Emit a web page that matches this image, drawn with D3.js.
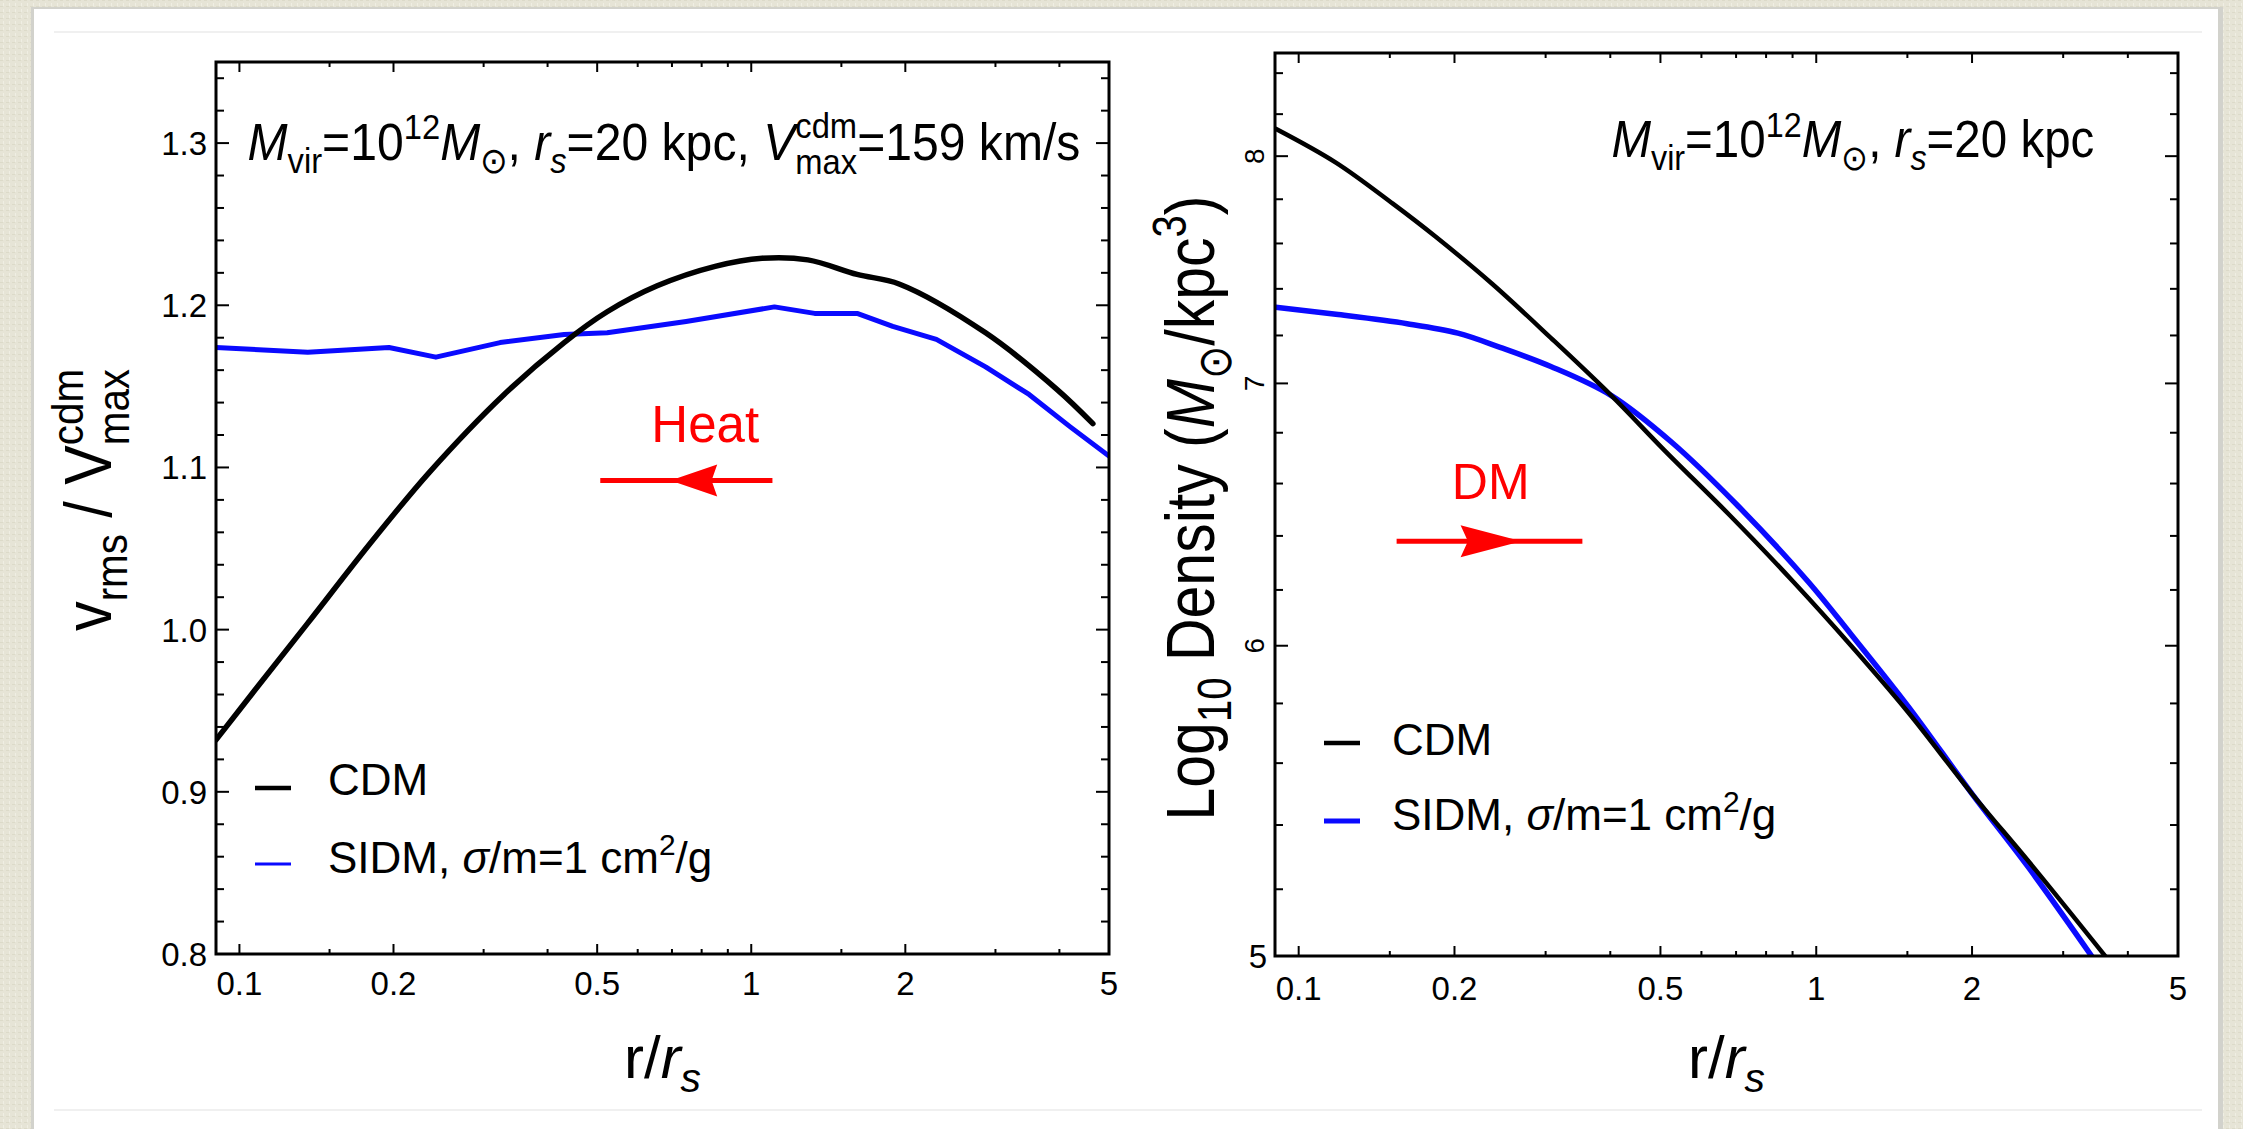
<!DOCTYPE html>
<html>
<head>
<meta charset="utf-8">
<script src="https://cdn.jsdelivr.net/npm/d3@7"></script>
<style>
  html, body { margin: 0; padding: 0; background: #e6e4d7; }
  svg { display: block; }
  text { font-family: "Liberation Sans", Arial, sans-serif; white-space: pre; }
</style>
</head>
<body>
<svg id="fig" width="2243" height="1129"></svg>
<script>
// ---- data ----
const xMajorTicks = [0.1, 0.2, 0.5, 1, 2, 5];
const xTickLabels = ["0.1", "0.2", "0.5", "1", "2", "5"];
const xMinorTicks = [0.15, 0.3, 0.4, 0.6, 0.7, 0.8, 0.9, 1.5, 3, 4];

const vMajorTicks = [0.8, 0.9, 1.0, 1.1, 1.2, 1.3];
const vTickLabels = ["0.8", "0.9", "1.0", "1.1", "1.2", "1.3"];
const rhoMajorTicks = [5, 6, 7, 8];
const rhoTickLabels = ["5", "6", "7", "8"];

// left panel: v_rms / V_max^cdm
const cdmVelR = [0.09, 0.108, 0.136, 0.181, 0.235, 0.329, 0.431, 0.523, 0.655, 0.85, 1.05, 1.29, 1.61, 1.95, 2.87, 3.96, 4.65];
const cdmVel  = [0.932, 0.964, 1.004, 1.054, 1.097, 1.145, 1.177, 1.196, 1.212, 1.224, 1.229, 1.228, 1.219, 1.213, 1.183, 1.148, 1.127];
const sidmVelR = [0.09, 0.136, 0.196, 0.242, 0.323, 0.431, 0.523, 0.746, 1.11, 1.33, 1.61, 1.89, 2.30, 2.87, 3.49, 4.2, 5.0];
const sidmVel  = [1.174, 1.171, 1.174, 1.168, 1.177, 1.182, 1.183, 1.190, 1.199, 1.195, 1.195, 1.187, 1.179, 1.162, 1.145, 1.125, 1.107];

// right panel: log10 density
const cdmRhoR = [0.0903, 0.118, 0.152, 0.184, 0.237, 0.307, 0.402, 0.509, 0.679, 0.903, 1.168, 1.505, 2.00, 2.59, 3.66];
const cdmRho  = [8.13, 7.97, 7.78, 7.63, 7.42, 7.19, 6.95, 6.73, 6.48, 6.23, 6.00, 5.77, 5.50, 5.28, 4.99];
const sidmRhoR = [0.0903, 0.118, 0.162, 0.203, 0.245, 0.307, 0.402, 0.527, 0.701, 0.965, 1.168, 1.505, 2.00, 2.59, 3.44];
const sidmRho  = [7.32, 7.29, 7.25, 7.21, 7.15, 7.07, 6.95, 6.76, 6.52, 6.23, 6.04, 5.79, 5.50, 5.26, 4.99];

// arrows: [r from, r to, level, head base r, head tip r]
const heatArrow = [1.10, 0.507, 1.092, 0.858, 0.695];
const dmArrow   = [0.1546, 0.3533, 6.38, 0.2055, 0.2695];

const svg = d3.select("#fig");

/* rich text: segments with sub / sup / stacked scripts */
function richText(parent, segs, o) {
  const size = o.size;
  const g = parent.append("g");
  const inner = g.append("g");
  let cx = 0;
  const add = (t, x, y, fs, it) => {
    const el = inner.append("text")
      .attr("x", x).attr("y", y)
      .attr("xml:space", "preserve")
      .attr("fill", o.fill || "#000")
      .style("font-size", fs + "px")
      .style("font-style", it ? "italic" : "normal")
      .text(t);
    return el.node().getComputedTextLength();
  };
  segs.forEach(s => {
    if (s.stack !== undefined) {
      const w1 = add(s.t, cx, -size * 0.42, size * 0.68, s.it);
      const w2 = add(s.stack, cx, size * 0.27, size * 0.68, s.it);
      cx += Math.max(w1, w2);
    } else if (s.sub) {
      cx += add(s.t, cx, size * 0.24, size * 0.68, s.it);
    } else if (s.sup) {
      cx += add(s.t, cx, -size * 0.40, size * 0.68, s.it);
    } else {
      cx += add(s.t, cx, 0, size, s.it);
    }
  });
  // fit to a target width if asked ( squeeze = narrower glyphs )
  const sq = o.squeeze || 1;
  const k = o.width ? o.width / (cx * sq) : 1;
  const f = o.anchor === "middle" ? 0.5 : o.anchor === "end" ? 1 : 0;
  inner.attr("transform", `scale(${k * sq},${k}) translate(${-cx * f},0)`);
  g.attr("transform", `translate(${o.x},${o.y}) rotate(${o.rotate || 0})`);
  return g;
}

/* one framed panel with log x axis */
class Panel {

  constructor(id, opt) {
    this.g = svg.append("g").attr("class", id);
    this.x = d3.scaleLog().domain(opt.xDomain).range(opt.xRange);
    this.y = (opt.yLog ? d3.scaleLog() : d3.scaleLinear())
      .domain(opt.yDomain).range(opt.yRange);
    this.x0 = opt.xRange[0]; this.x1 = opt.xRange[1];
    this.y0 = opt.yRange[1]; this.y1 = opt.yRange[0];

    // clip the curves to the frame
    this.g.append("clipPath").attr("id", `clip-${id}`)
      .append("rect")
      .attr("x", this.x0).attr("y", this.y0)
      .attr("width", this.x1 - this.x0).attr("height", this.y1 - this.y0);
    this.plotG = this.g.append("g").attr("clip-path", `url(#clip-${id})`);
  }

  /* frame and ticks */
  drawFrame(yMajor, yMinor) {
    const t = this.g.append("g").attr("stroke", "#000").attr("stroke-width", 2);
    const xt = (vals, len) => vals.forEach(v => {
      const px = this.x(v);
      t.append("line").attr("x1", px).attr("x2", px).attr("y1", this.y1).attr("y2", this.y1 - len);
      t.append("line").attr("x1", px).attr("x2", px).attr("y1", this.y0).attr("y2", this.y0 + len);
    });
    const yt = (vals, len) => vals.forEach(v => {
      const py = this.y(v);
      t.append("line").attr("y1", py).attr("y2", py).attr("x1", this.x0).attr("x2", this.x0 + len);
      t.append("line").attr("y1", py).attr("y2", py).attr("x1", this.x1).attr("x2", this.x1 - len);
    });
    xt(xMajorTicks, 10);
    xt(xMinorTicks, 5);
    yt(yMajor, 13);
    yt(yMinor, 8);

    this.g.append("rect")
      .attr("x", this.x0).attr("y", this.y0)
      .attr("width", this.x1 - this.x0).attr("height", this.y1 - this.y0)
      .attr("fill", "none").attr("stroke", "#000").attr("stroke-width", 3);
  }

  /* x tick labels */
  drawXLabels(baseY) {
    xMajorTicks.forEach((v, i) => {
      this.g.append("text")
        .attr("x", this.x(v)).attr("y", baseY)
        .attr("text-anchor", "middle")
        .style("font-size", "33px")
        .text(xTickLabels[i]);
    });
  }

  /* curve */
  plot(xs, ys, color, width, curve) {
    const pts = xs.map((r, i) => [r, ys[i]]);
    const line = d3.line()
      .x(d => this.x(d[0]))
      .y(d => this.y(d[1]))
      .curve(curve);
    return this.plotG.append("path")
      .datum(pts)
      .attr("d", line)
      .attr("fill", "none")
      .attr("stroke", color)
      .attr("stroke-width", width)
      .attr("stroke-linejoin", "round")
      .attr("stroke-linecap", "round");
  }

  /* red arrow with a head in the middle */
  arrow(a) {
    const [r1, r2, lv, rb, rt] = a;
    const py = this.y(lv);
    this.g.append("line")
      .attr("x1", this.x(r1)).attr("x2", this.x(r2))
      .attr("y1", py).attr("y2", py)
      .attr("stroke", "#ff0000").attr("stroke-width", 5);
    const xb = this.x(rb), xt = this.x(rt);
    const notch = xb + (xt - xb) * 0.12;
    this.g.append("path")
      .attr("d", `M${xt},${py} L${xb},${py - 16} L${notch},${py} L${xb},${py + 16} Z`)
      .attr("fill", "#ff0000");
  }

  /* legend rows */
  legend(rows, lx, tx) {
    rows.forEach(row => {
      this.g.append("line")
        .attr("x1", lx).attr("x2", lx + 36)
        .attr("y1", row.ly).attr("y2", row.ly)
        .attr("stroke", row.color).attr("stroke-width", row.w);
      richText(this.g, row.segs, { x: tx, y: row.by, size: 44 });
    });
  }
}

// ---- card background ----
const defs = svg.append("defs");
const pat = defs.append("pattern").attr("id", "linen")
  .attr("width", 6).attr("height", 6).attr("patternUnits", "userSpaceOnUse");
pat.append("rect").attr("width", 6).attr("height", 6).attr("fill", "#e6e4d6");
pat.append("rect").attr("x", 0).attr("y", 0).attr("width", 3).attr("height", 1).attr("fill", "#dcdac9");
pat.append("rect").attr("x", 3).attr("y", 3).attr("width", 1).attr("height", 3).attr("fill", "#efeee3");
svg.append("rect").attr("width", 2243).attr("height", 1129).attr("fill", "url(#linen)");
svg.append("rect").attr("x", 31).attr("y", 7).attr("width", 2192).attr("height", 1140).attr("fill", "#d2d2cc");
svg.append("rect").attr("x", 34).attr("y", 9).attr("width", 2184).attr("height", 1140).attr("fill", "#ffffff");
[32, 1110].forEach(y => {
  svg.append("line").attr("x1", 54).attr("x2", 2202).attr("y1", y).attr("y2", y)
    .attr("stroke", "#ebebeb").attr("stroke-width", 1.5);
});

// ---- left panel ----
const left = new Panel("left", {
  xDomain: [0.09, 5], xRange: [216, 1109],
  yDomain: [0.8, 1.35], yRange: [954, 62], yLog: false
});
const vMinor = d3.range(0.82, 1.35, 0.02).filter(v => Math.abs(v * 10 - Math.round(v * 10)) > 0.01);
left.drawFrame(vMajorTicks, vMinor);
left.drawXLabels(995);
vMajorTicks.forEach((v, i) => {
  left.g.append("text")
    .attr("x", left.x0 - 9).attr("y", left.y(v) + 12)
    .attr("text-anchor", "end")
    .style("font-size", "33px")
    .text(vTickLabels[i]);
});
left.plot(sidmVelR, sidmVel, "#0a0aff", 5, d3.curveLinear);
left.plot(cdmVelR, cdmVel, "#000000", 5.5, d3.curveCatmullRom);

richText(left.g, [
  { t: "M", it: true }, { t: "vir", sub: true }, { t: "=10" }, { t: "12", sup: true },
  { t: "M", it: true }, { t: "⊙", sub: true }, { t: ", " }, { t: "r", it: true },
  { t: "s", sub: true, it: true }, { t: "=20 kpc, " }, { t: "V", it: true },
  { t: "cdm", stack: "max" }, { t: "=159 km/s" }
], { x: left.x(0.1037), y: left.y(1.2895), size: 46, width: 833, squeeze: 0.92 });

richText(left.g, [
  { t: "v" }, { t: "rms", sub: true }, { t: " / " }, { t: "V" }, { t: "cdm", stack: "max" }
], { x: 111, y: 500, size: 56, anchor: "middle", rotate: -90, width: 262, squeeze: 0.9 });

richText(left.g, [
  { t: "r/" }, { t: "r", it: true }, { t: "s", sub: true, it: true }
], { x: (left.x0 + left.x1) / 2, y: 1078, size: 60, anchor: "middle" });

left.arrow(heatArrow);
left.g.append("text")
  .attr("x", left.x(0.813)).attr("y", left.y(1.116))
  .attr("text-anchor", "middle").attr("fill", "#ff0000")
  .style("font-size", "51px").text("Heat");

left.legend([
  { color: "#000", w: 4.5, ly: 788, by: 795, segs: [{ t: "CDM" }] },
  { color: "#0a0aff", w: 3, ly: 864, by: 873, segs: [
    { t: "SIDM, " }, { t: "σ", it: true }, { t: "/m=1 cm" }, { t: "2", sup: true }, { t: "/g" }] }
], 255, 328);

// ---- right panel ----
const right = new Panel("right", {
  xDomain: [0.09, 5], xRange: [1275, 2178],
  yDomain: [5, 8.5], yRange: [956, 53], yLog: true
});
const rhoMinor = d3.range(5.2, 8.5, 0.2).filter(v => Math.abs(v - Math.round(v)) > 0.01);
right.drawFrame(rhoMajorTicks, rhoMinor);
right.drawXLabels(1000);
rhoMajorTicks.forEach((v, i) => {
  const py = right.y(v);
  if (v === 5) {
    right.g.append("text")
      .attr("x", right.x0 - 8).attr("y", py + 12)
      .attr("text-anchor", "end")
      .style("font-size", "33px")
      .text(rhoTickLabels[i]);
  } else {
    right.g.append("text")
      .attr("transform", `translate(${right.x0 - 11},${py}) rotate(-90)`)
      .attr("text-anchor", "middle")
      .style("font-size", "28px")
      .text(rhoTickLabels[i]);
  }
});
right.plot(sidmRhoR, sidmRho, "#0a0aff", 5.5, d3.curveCatmullRom);
right.plot(cdmRhoR, cdmRho, "#000000", 4.5, d3.curveCatmullRom);

richText(right.g, [
  { t: "M", it: true }, { t: "vir", sub: true }, { t: "=10" }, { t: "12", sup: true },
  { t: "M", it: true }, { t: "⊙", sub: true }, { t: ", " }, { t: "r", it: true },
  { t: "s", sub: true, it: true }, { t: "=20 kpc" }
], { x: right.x(0.402), y: right.y(7.995), size: 46, width: 483, squeeze: 0.92 });

richText(right.g, [
  { t: "Log" }, { t: "10", sub: true }, { t: " Density (" }, { t: "M", it: true },
  { t: "⊙", sub: true }, { t: "/kpc" }, { t: "3", sup: true }, { t: ")" }
], { x: 1214, y: 508, size: 60, anchor: "middle", rotate: -90, width: 625, squeeze: 0.85 });

richText(right.g, [
  { t: "r/" }, { t: "r", it: true }, { t: "s", sub: true, it: true }
], { x: (right.x0 + right.x1) / 2, y: 1078, size: 60, anchor: "middle" });

right.arrow(dmArrow);
right.g.append("text")
  .attr("x", right.x(0.235)).attr("y", right.y(6.54))
  .attr("text-anchor", "middle").attr("fill", "#ff0000")
  .style("font-size", "50px").text("DM");

right.legend([
  { color: "#000", w: 4.5, ly: 743, by: 755, segs: [{ t: "CDM" }] },
  { color: "#0a0aff", w: 5, ly: 821, by: 830, segs: [
    { t: "SIDM, " }, { t: "σ", it: true }, { t: "/m=1 cm" }, { t: "2", sup: true }, { t: "/g" }] }
], 1324, 1392);
</script>
</body>
</html>
